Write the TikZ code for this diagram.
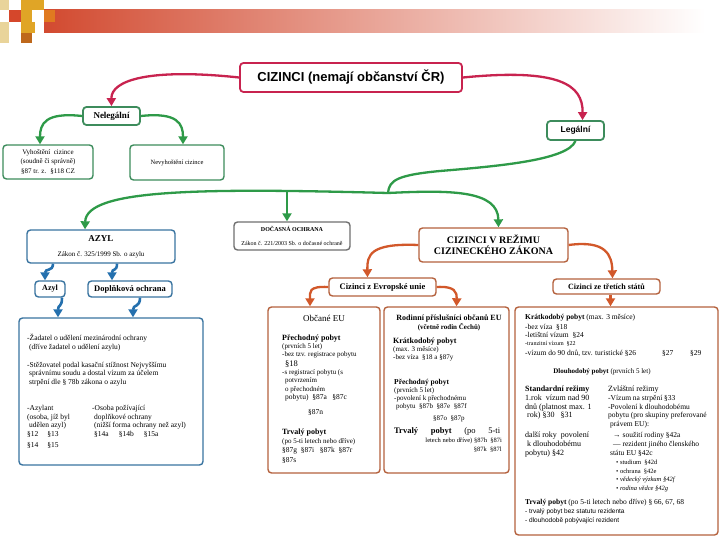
\documentclass[tikz,border=0pt]{standalone}
\usepackage{fontspec}
\setmainfont{Liberation Serif}
\newfontfamily\arialf{Liberation Sans}
\usetikzlibrary{arrows.meta}
\newcommand{\myfz}[2]{\fontsize{#1}{#2}\selectfont}
\definecolor{crim}{HTML}{C8234F}
\definecolor{grn}{HTML}{2E9A48}
\definecolor{grnb}{HTML}{3D8C5C}
\definecolor{blu}{HTML}{2470AE}
\definecolor{blub}{HTML}{3A74A0}
\definecolor{org}{HTML}{D2582A}
\definecolor{orgb}{HTML}{B5623E}
\definecolor{gry}{HTML}{707070}
\definecolor{barred}{HTML}{D24A30}
\definecolor{gold}{HTML}{E0A526}
\definecolor{lgold}{HTML}{E9D49A}
\definecolor{orng}{HTML}{E07A20}
\definecolor{sqred}{HTML}{D5472B}
\begin{document}
\begin{tikzpicture}[x=1pt,y=-1pt,
  box/.style={draw, rounded corners=3.5pt, line width=1.4pt, fill=white, inner sep=0pt, align=center},
  tl/.style={inner sep=0pt, anchor=base west},
  tc/.style={inner sep=0pt, anchor=base},
  tr/.style={inner sep=0pt, anchor=base east},
  arr/.style={line width=2.3pt, -{Triangle[width=9pt,length=8pt]}},
]
\useasboundingbox (0,0) rectangle (720,540);
\fill[white] (0,0) rectangle (720,540);
% decoration
\shade[left color=barred, right color=white] (44,10) rectangle (705,33);
\fill[lgold] (0,0) rectangle (9,10);
\fill[sqred] (9,10) rectangle (21,22);
\fill[gold] (21,0) rectangle (44,10);
\fill[gold] (21,10) rectangle (32,22);
\fill[orng] (44,10) rectangle (55,22);
\fill[gold] (21,22) rectangle (35,33);
\fill[lgold] (0,22) rectangle (9,43);
\fill[orng!85!black] (21,33) rectangle (32,43);

% boxes
\node[box, draw=crim, line width=1.8pt, minimum width=222pt, minimum height=29pt] (title) at (351,77.5)
  {\arialf\bfseries\myfz{13}{13}CIZINCI (nemají občanství ČR)};
\node[box, draw=grnb, line width=1.8pt, minimum width=57pt, minimum height=18pt] (neleg) at (111.5,116)
  {\bfseries\myfz{9}{9}Nelegální};
\node[box, draw=grnb, minimum width=90pt, minimum height=34pt, font=\myfz{7}{9.5}] (vyh) at (48,162)
  {Vyhoštění \ cizince\\(soudně či správně)\\§87 tr. z. \ §118 CZ};
\node[box, draw=grnb, minimum width=94pt, minimum height=35pt, font=\myfz{6.5}{8}] (nevyh) at (177,162.5)
  {Nevyhoštění cizince};
\node[box, draw=grnb, line width=1.8pt, minimum width=57pt, minimum height=19pt] (legal) at (575.5,130.5)
  {\arialf\bfseries\myfz{8.5}{8.5}Legální};
\node[box, draw=blub, minimum width=148pt, minimum height=33pt] (azylbig) at (101,246.5)
  {{\bfseries\myfz{9}{9}AZYL}\\[3pt]{\myfz{7}{7}Zákon č. 325/1999 Sb. o azylu}};
\node[box, draw=gry, minimum width=116pt, minimum height=28pt] (doc) at (292,236)
  {{\bfseries\myfz{6}{6}DOČASNÁ OCHRANA}\\[2pt]{\myfz{6}{6}Zákon č. 221/2003 Sb. o dočasné ochraně}};
\node[box, draw=orgb, minimum width=149pt, minimum height=34pt, font=\bfseries\myfz{10}{11}] (rez) at (493.5,245)
  {CIZINCI V REŽIMU\\CIZINECKÉHO ZÁKONA};
\node[box, draw=blub, minimum width=30pt, minimum height=16pt] (azyl) at (50,289)
  {\bfseries\myfz{8}{8}Azyl};
\node[box, draw=blub, minimum width=84pt, minimum height=16pt] (dopl) at (130,289)
  {\bfseries\myfz{8.5}{8.5}Doplňková ochrana};
\node[box, draw=blub, minimum width=184pt, minimum height=147pt] (blue) at (111,391.5) {};
\node[box, draw=orgb, minimum width=107pt, minimum height=18pt] (eu) at (382.5,287)
  {\bfseries\myfz{8.5}{8.5}Cizinci z Evropské unie};
\node[box, draw=orgb, minimum width=107pt, minimum height=15pt] (tre) at (606.5,286.5)
  {\bfseries\myfz{8}{8}Cizinci ze třetích států};
\node[box, draw=orgb, minimum width=112pt, minimum height=166pt] (obc) at (324,390) {};
\node[box, draw=orgb, minimum width=125pt, minimum height=166pt] (rod) at (446.5,390) {};
\node[box, draw=orgb, minimum width=203pt, minimum height=228pt] (trb) at (616.5,421) {};

% connectors
\draw[arr, crim] (title.west) .. controls (150,68) and (111,80) .. (neleg.north);
\draw[arr, crim] (title.east) .. controls (560,68) and (583,85) .. ([xshift=7pt]legal.north);
\draw[arr, grn] (neleg.west) .. controls (45,112) and (40,124) .. ([xshift=-8pt]vyh.north);
\draw[arr, grn] (neleg.east) .. controls (178,112) and (183,124) .. ([xshift=6pt]nevyh.north);
\coordinate (gbend) at (440,171);
\coordinate (gj) at (388,193);
\coordinate (gm) at (287,190.5);
\draw[line width=2.3pt, grn] (legal.south) .. controls (568,160) and (500,166) .. (gbend)
   .. controls (398,175) and (389,180) .. (gj);
\draw[arr, grn] (gj) .. controls (200,188) and (86,189) .. ([xshift=-16pt]azylbig.north);
\draw[arr, grn] (gj) .. controls (450,190) and (498,190) .. ([xshift=5pt]rez.north);
\draw[arr, grn] (gm) -- ([xshift=-5pt]doc.north);
\draw[arr, blu, line width=2.6pt] ([xshift=-48pt]azylbig.south) .. controls (53,272) and (45,268) .. ([xshift=-5pt]azyl.north);
\draw[arr, blu, line width=2.6pt] ([xshift=16pt]azylbig.south) .. controls (117,272) and (112,268) .. ([xshift=-18pt]dopl.north);
\draw[arr, blu, line width=2.6pt] ([xshift=12pt]azyl.south) .. controls (62,308) and (58,304) .. ([xshift=-53pt]blue.north);
\draw[arr, blu, line width=2.6pt] ([xshift=10pt]dopl.south) .. controls (140,308) and (133,304) .. ([xshift=22pt]blue.north);
\draw[arr, org] (rez.west) .. controls (370,243) and (367,255) .. ([xshift=-15pt]eu.north);
\draw[arr, org] (rez.east) .. controls (606,240) and (612,255) .. ([xshift=6pt]tre.north);
\draw[arr, org] (eu.west) .. controls (308,286) and (310,292) .. ([xshift=-14pt]obc.north);
\draw[arr, org] (eu.east) .. controls (455,286) and (457,292) .. ([xshift=10pt]rod.north);
\draw[arr, org] ([xshift=4pt]tre.south) -- ([xshift=-6pt]trb.north);

% blue box text
\foreach \xx/\yy/\tx [count=\i] in {
27/340.5/{-Žadatel o udělení mezinárodní ochrany},
29/349.5/{(dříve žadatel o udělení azylu)},
27/367.5/{-Stěžovatel podal kasační stížnost Nejvyššímu},
29/375.5/{správnímu soudu a dostal vízum za účelem},
29/384.5/{strpění dle § 78b zákona o azylu},
27/410.5/{-Azylant},
27/419/{(osoba, jíž byl},
29/427.5/{udělen azyl)},
27/436/{§12\hspace{9pt}§13},
27/447.5/{§14\hspace{9pt}§15},
92/410.5/{-Osoba požívající},
94/419/{doplňkové ochrany},
94/427.5/{(nižší forma ochrany než azyl)},
94/436/{§14a\hspace{10pt}§14b\hspace{10pt}§15a}}
\node[tl, font=\myfz{7.5}{9}] (az\i) at (\xx,\yy) {\tx};

% obcane EU text
\node[tc, font=\myfz{9}{9}] (obT) at (324,321.5) {Občané EU};
\foreach \xx/\yy/\tx [count=\i] in {
282/340.5/{\myfz{8}{8}\bfseries Přechodný pobyt},
282/348.5/{(prvních 5 let)},
282/356.5/{-bez tzv. registrace pobytu},
285/366/{\myfz{8.5}{9}§18},
282/374.5/{-s registrací pobytu (s},
285/382.5/{potvrzením},
285/391/{o přechodném},
285/399.5/{\myfz{7.5}{8}pobytu) \ §87a \ \ §87c},
308/414/{\myfz{7.5}{8}§87n},
282/434.5/{\myfz{8}{8}\bfseries Trvalý pobyt},
282/443/{(po 5-ti letech nebo dříve)},
282/452/{\myfz{7.5}{8}§87g \ §87i \ \ §87k \ §87r},
282/462.5/{\myfz{7.5}{8}§87s}}
\node[tl, font=\myfz{7}{8}] (ob\i) at (\xx,\yy) {\tx};

% rodinni text
\node[tc, font=\bfseries\myfz{8}{8}] (roT) at (449,320.5) {Rodinní příslušníci občanů EU};
\node[tc, font=\bfseries\myfz{7}{7}] (roS) at (449,329.5) {(včetně rodin Čechů)};
\foreach \xx/\yy/\tx [count=\i] in {
393/343/{\myfz{8}{8}\bfseries Krátkodobý pobyt},
393/351/{(max. 3 měsíce)},
393/359/{-bez víza \ §18 a §87y},
394/384/{\myfz{7.5}{8}\bfseries Přechodný pobyt},
394/392/{(prvních 5 let)},
394/400/{-povolení k přechodnému},
396/408.5/{pobytu \ §87b \ §87e \ §87f},
433/420/{§87o \ §87p},
394/433/{\myfz{8.5}{8.5}\hbox to 106pt{\bfseries Trvalý\hfil pobyt\hfil\mdseries (po\hfil 5-ti}}}
\node[tl, font=\myfz{7}{8}] (ro\i) at (\xx,\yy) {\tx};
\node[tr, font=\myfz{6.5}{7}] (roA) at (502,442) {letech nebo dříve) §87h \ §87i};
\node[tr, font=\myfz{6.5}{7}] (roB) at (502,451) {§87k \ §87l};

% third countries text
\foreach \xx/\yy/\tx [count=\i] in {
525/319.5/{{\bfseries Krátkodobý pobyt} (max. 3 měsíce)},
525/329/{-bez víza \ §18},
525/337/{-letištní vízum \ §24},
525/345.5/{\myfz{6}{6}-tranzitní vízum \ §22},
525/355.5/{-vízum do 90 dnů, tzv. turistické §26},
662/355.5/{§27},
690/355.5/{§29},
525/391/{\myfz{8}{8}\bfseries Standardní režimy},
525/400/{\myfz{8}{8}1.rok \ vízum nad 90},
525/409/{\myfz{8}{8}dnů (platnost max. 1},
527/417.5/{\myfz{8}{8}rok) §30 \ \ §31},
525/437.5/{\myfz{8}{8}další roky \ povolení},
527/446/{\myfz{8}{8}k dlouhodobému},
525/455/{\myfz{8}{8}pobytu) §42},
608/391/{\myfz{8}{8}Zvláštní režimy},
608/400/{-Vízum na strpění §33},
608/409/{-Povolení k dlouhodobému},
608/417.5/{pobytu (pro skupiny preferované},
610/426/{právem EU):},
613/437.5/{→ soužití rodiny §42a},
613/446/{— rezident jiného členského},
610/455/{státu EU §42c},
616/464.5/{\myfz{6.5}{7}• studium \ §42d},
616/473/{\myfz{6.5}{7}• ochrana \ §42e},
616/481.5/{\myfz{6.5}{7}\itshape • vědecký výzkum §42f},
616/490/{\myfz{6.5}{7}\itshape • rodina vědce §42g},
525/504/{{\bfseries Trvalý pobyt} (po 5-ti letech nebo dříve) § 66, 67, 68},
525/513.5/{\arialf\myfz{6.5}{7}- trvalý pobyt bez statutu rezidenta},
525/522.5/{\arialf\myfz{6.5}{7}- dlouhodobě pobývající rezident}}
\node[tl, font=\myfz{7.5}{8}] (tr\i) at (\xx,\yy) {\tx};
\node[tc, font=\myfz{7}{7}] (trD) at (602,373.5) {{\bfseries Dlouhodobý pobyt} (prvních 5 let)};
\end{tikzpicture}
\end{document}
